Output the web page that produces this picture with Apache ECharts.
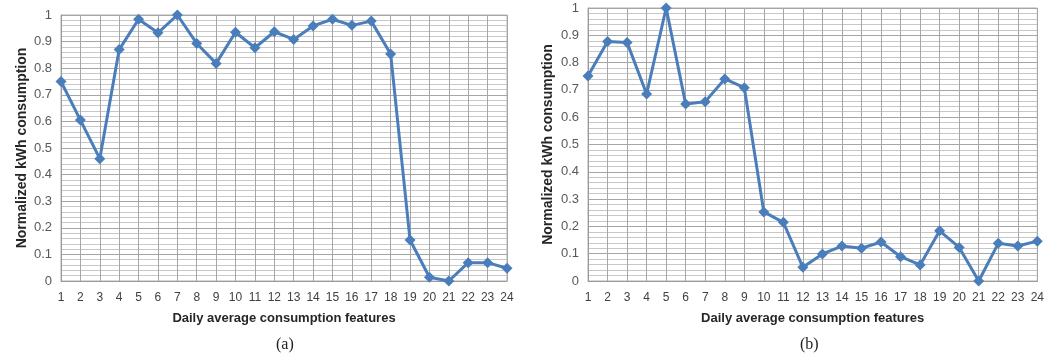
<!DOCTYPE html>
<html><head><meta charset="utf-8">
<script src="https://cdn.jsdelivr.net/npm/echarts@6/dist/echarts.min.js"></script>
<style>html,body{margin:0;padding:0;background:#fff}#c{width:1047px;height:363px}</style>
</head><body><div id="c"></div>
<script>
const categories = ['1','2','3','4','5','6','7','8','9','10','11','12','13','14','15','16','17','18','19','20','21','22','23','24'];
const seriesA = [0.75,0.605,0.46,0.87,0.984,0.933,1.0,0.893,0.818,0.935,0.877,0.937,0.908,0.959,0.984,0.961,0.977,0.853,0.154,0.014,0.0,0.069,0.069,0.048];
const seriesB = [0.751,0.877,0.874,0.685,1.0,0.648,0.657,0.74,0.708,0.253,0.215,0.05,0.099,0.128,0.12,0.143,0.089,0.059,0.184,0.123,0.0,0.138,0.128,0.146];
const panelLabels = ['(a)','(b)'];
const xName = 'Daily average consumption features';
const yName = 'Normalized kWh consumption';

const chart = echarts.init(document.getElementById('c'), null, {renderer:'canvas'});
const font = 'Liberation Sans, Arial, sans-serif';
function xAxis(i){
  return {type:'category', gridIndex:i, data:categories, boundaryGap:false,
    axisLine:{show:true, lineStyle:{color:'#9a9a9a', width:1}},
    axisTick:{show:false},
    axisLabel:{color:'#404040', fontSize:12, fontFamily:font, margin:11, interval:0},
    splitLine:{show:true, lineStyle:{color:'#a6a6a6', width:1}},
    name:xName, nameLocation:'middle', nameGap:31,
    nameTextStyle:{color:'#262626', fontSize:13, fontWeight:'bold', fontFamily:font}};
}
function yAxis(i){
  return {type:'value', gridIndex:i, min:0, max:1, interval:0.1,
    axisLine:{show:true, lineStyle:{color:'#9a9a9a'}},
    axisTick:{show:false},
    axisLabel:{color:'#595959', fontSize:13, fontFamily:font, margin:9,
      formatter:v=>String(Math.round(v*10)/10)},
    splitLine:{show:true, lineStyle:{color:'#a6a6a6', width:1}},
    minorTick:{show:false, splitNumber:5},
    minorSplitLine:{show:true, lineStyle:{color:'#c8c8c8', width:1}},
    name:yName, nameLocation:'middle', nameGap:i===0?32:33, nameRotate:90,
    nameTextStyle:{color:'#262626', fontSize:14, fontWeight:'bold', fontFamily:font}};
}
function series(i,data){
  return {type:'line', xAxisIndex:i, yAxisIndex:i, data:data, symbol:'diamond', symbolSize:11,
    lineStyle:{color:'#4a7ebb', width:3}, itemStyle:{color:'#4a7ebb'}, animation:false, z:5};
}
chart.setOption({
  animation:false,
  grid:[
    {left:61, right:540, top:15, bottom:82, show:true, borderColor:'#b0b0b0', borderWidth:1},
    {left:588, right:9, top:8, bottom:82, show:true, borderColor:'#b0b0b0', borderWidth:1}
  ],
  xAxis:[xAxis(0), xAxis(1)],
  yAxis:[yAxis(0), yAxis(1)],
  series:[series(0,seriesA), series(1,seriesB)],
  graphic:[
    {type:'text', left:276, top:337, style:{text:panelLabels[0], font:'16px "Liberation Serif", serif', fill:'#222'}},
    {type:'text', left:800, top:337, style:{text:panelLabels[1], font:'16px "Liberation Serif", serif', fill:'#222'}}
  ]
});
</script></body></html>
